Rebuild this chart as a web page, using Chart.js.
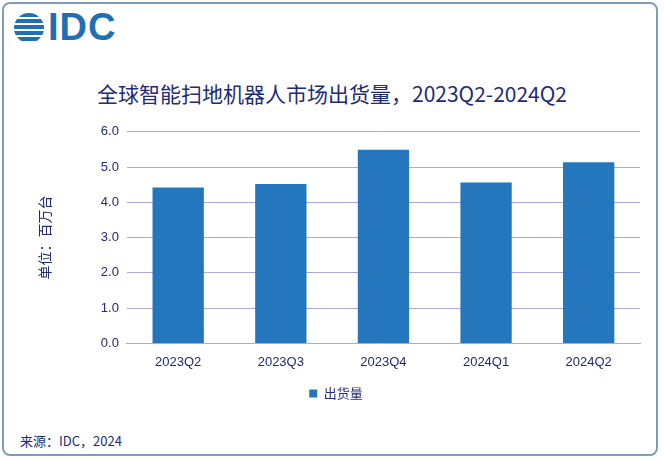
<!DOCTYPE html>
<html><head><meta charset="utf-8">
<script src="https://cdn.jsdelivr.net/npm/chart.js@4"></script>
<style>
body{margin:0;width:664px;height:462px;background:#fff;font-family:"Noto Sans CJK SC","Noto Sans",sans-serif;overflow:hidden}
#frame{position:absolute;left:2px;top:2px;width:656px;height:454px;border:2px solid #7f9cb8;border-radius:8px;box-sizing:border-box}
#logo{position:absolute;left:14px;top:6px;font:bold 38px "Liberation Sans",sans-serif;color:#1f6fb5;letter-spacing:1px}
#logo span{display:inline-block;width:30px;height:30px;border-radius:50%;background:repeating-linear-gradient(#1f6fb5 0 4px,#fff 4px 6px);vertical-align:-3px;margin-right:4px}
#title{position:absolute;left:0;width:664px;top:78px;text-align:center;font-size:21px;color:#1f2a78}
#src{position:absolute;left:20px;top:431px;font-size:13px;color:#1f2a78}
#wrap{position:absolute;left:32px;top:116px;width:618px;height:294px}
</style></head><body>
<div id="frame"></div>
<div id="logo"><span></span>IDC</div>
<div id="title">全球智能扫地机器人市场出货量，2023Q2-2024Q2</div>
<div id="wrap"><canvas id="c" width="618" height="294"></canvas></div>
<div id="src">来源：IDC，2024</div>
<script>
const categories=["2023Q2","2023Q3","2023Q4","2024Q1","2024Q2"];
const shipments=[4.42,4.52,5.49,4.56,5.14];
const seriesName="出货量";
new Chart(document.getElementById('c'),{type:'bar',
data:{labels:categories,datasets:[{label:seriesName,data:shipments,backgroundColor:'#2477bd',categoryPercentage:1,barPercentage:0.5}]},
options:{responsive:false,animation:false,
layout:{padding:{left:0,right:10,top:8,bottom:0}},
plugins:{legend:{position:'bottom',labels:{boxWidth:8,boxHeight:8,color:'#1f2a78',font:{size:13,family:'Noto Sans CJK SC'},padding:14}}},
scales:{x:{grid:{display:false},border:{color:'#b0a6e0'},ticks:{color:'#1f2a78',font:{size:13}}},
y:{min:0,max:6,ticks:{stepSize:1,color:'#1f2a78',font:{size:13},padding:8,callback:v=>v.toFixed(1)},grid:{color:'#b0a6e0',drawTicks:false},border:{display:false},
title:{display:true,text:'单位：百万台',color:'#1f2a78',font:{size:14,family:'Noto Sans CJK SC'},padding:{bottom:40}}}}}});
</script></body></html>
